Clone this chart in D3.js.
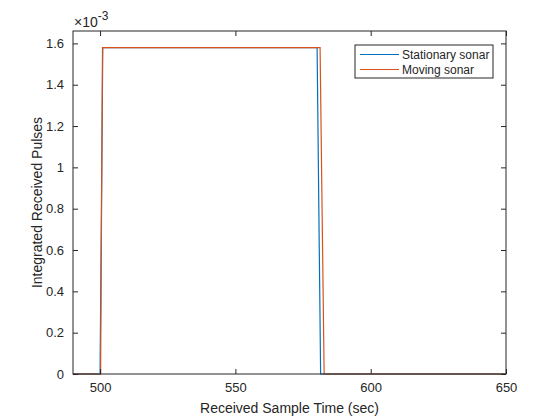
<!DOCTYPE html>
<html>
<head>
<meta charset="utf-8">
<script src="https://cdn.jsdelivr.net/npm/d3@7"></script>
<style>
  body { margin: 0; background: #fff; }
  text { font-family: "Liberation Sans", Arial, sans-serif; fill: #262626; }
</style>
</head>
<body>
<svg id="chart" width="560" height="420"></svg>
<script>
// sample times (sec) and integrated pulse values
var stationaryTime = [490, 500, 501, 580.2, 581.5, 650];
var stationaryVal  = [0, 0, 1.58e-3, 1.58e-3, 0, 0];
var movingTime = [490, 500.2, 500.9, 581.3, 582.8, 650];
var movingVal  = [0, 0, 1.58e-3, 1.58e-3, 0, 0];

var xTicks = [500, 550, 600, 650];
var yTicks = [0, 0.2e-3, 0.4e-3, 0.6e-3, 0.8e-3, 1e-3, 1.2e-3, 1.4e-3, 1.6e-3];
var seriesNames = ['Stationary sonar', 'Moving sonar'];
var seriesColors = ['#0072BD', '#D95319'];

var margin = {top: 31, right: 54, bottom: 46, left: 73};
var width = 560 - margin.left - margin.right,
    height = 420 - margin.top - margin.bottom;

var svg = d3.select('#chart');
var g = svg.append('g').attr('transform', 'translate(' + margin.left + ',' + margin.top + ')');

var x = d3.scaleLinear().domain([490, 650]).range([0, width]);
var y = d3.scaleLinear().domain([0, 1.66e-3]).range([height, 0]);

var line = d3.line()
    .x(function(d) { return x(d[0]); })
    .y(function(d) { return y(d[1]); });

var series = [
  d3.zip(stationaryTime, stationaryVal),
  d3.zip(movingTime, movingVal)
];

g.selectAll('.series')
  .data(series)
  .enter().append('path')
    .attr('class', 'series')
    .attr('d', line)
    .attr('fill', 'none')
    .attr('stroke', function(d, i) { return seriesColors[i]; })
    .attr('stroke-width', 1.2);

// axes, ticks pointing inward like matlab
function styleAxis(sel) {
  sel.selectAll('.domain').remove();
  sel.selectAll('line').attr('stroke', '#262626');
  sel.selectAll('text').style('font-size', '13px').attr('fill', '#262626');
}

g.append('g')
  .attr('transform', 'translate(0,' + height + ')')
  .call(d3.axisBottom(x).tickValues(xTicks).tickSize(-5).tickPadding(9))
  .call(styleAxis);

g.append('g')
  .call(d3.axisTop(x).tickValues(xTicks).tickSize(-5).tickFormat(''))
  .call(styleAxis);

g.append('g')
  .call(d3.axisLeft(y).tickValues(yTicks).tickSize(-5).tickPadding(9)
    .tickFormat(function(d) { return d3.format('~g')(+(d * 1000).toFixed(1)); }))
  .call(styleAxis);

g.append('g')
  .attr('transform', 'translate(' + width + ',0)')
  .call(d3.axisRight(y).tickValues(yTicks).tickSize(-5).tickFormat(''))
  .call(styleAxis);

g.append('rect')
  .attr('width', width).attr('height', height)
  .attr('fill', 'none').attr('stroke', '#262626').attr('stroke-width', 1);

// exponent label
var ex = g.append('text').attr('x', 1).attr('y', -4).style('font-size', '14px');
ex.append('tspan').text('\u00d710');
ex.append('tspan').attr('dy', -7).style('font-size', '12px').text('-3');

// axis labels
svg.append('text')
  .attr('x', margin.left + width / 2).attr('y', 413)
  .attr('text-anchor', 'middle').style('font-size', '14px')
  .text('Received Sample Time (sec)');

svg.append('text')
  .attr('transform', 'translate(42,' + (margin.top + height / 2) + ') rotate(-90)')
  .attr('text-anchor', 'middle').style('font-size', '14px')
  .text('Integrated Received Pulses');

// legend
var lg = svg.append('g').attr('transform', 'translate(355,45)');
lg.append('rect').attr('width', 138).attr('height', 33)
  .attr('fill', '#fff').attr('stroke', '#262626').attr('stroke-width', 1);
seriesNames.forEach(function(name, i) {
  var yy = 9.5 + i * 15;
  lg.append('line').attr('x1', 5).attr('x2', 44).attr('y1', yy).attr('y2', yy)
    .attr('stroke', seriesColors[i]).attr('stroke-width', 1.2);
  lg.append('text').attr('x', 47).attr('y', yy + 4).style('font-size', '12px').text(name);
});
</script>
</body>
</html>
